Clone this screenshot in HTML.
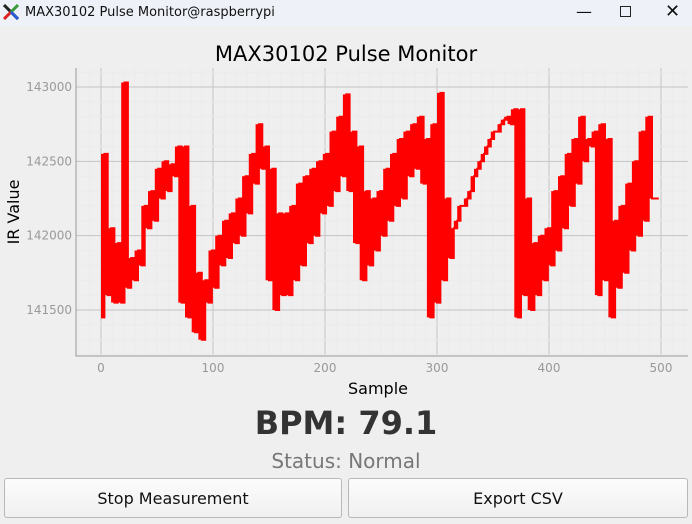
<!DOCTYPE html>
<html><head><meta charset="utf-8"><style>
body{margin:0;width:692px;height:524px;background:#efefef;font-family:"DejaVu Sans","Liberation Sans",sans-serif;overflow:hidden;position:relative}
.tb{position:absolute;left:0;top:0;width:692px;height:26px;background:#eef2f8;font-size:13px;color:#111}
.btn{position:absolute;top:478px;height:40px;background:linear-gradient(#fcfcfc,#f0f0f0);border:1px solid #b8b8b8;border-radius:3px;font-size:16px;color:#111;display:flex;align-items:center;justify-content:center;box-sizing:border-box}
</style></head><body>
<div class="tb">
<svg style="position:absolute;left:3px;top:4px" width="16" height="16"><path d="M1 1L15 15" stroke="#222" stroke-width="3"/><path d="M15 1L8 8" stroke="#3a9a3a" stroke-width="3"/><path d="M1 15L8 8" stroke="#d22" stroke-width="3"/><path d="M8 8L15 15" stroke="#2a5bd8" stroke-width="3"/></svg>
<span style="position:absolute;left:25px;top:5px">MAX30102 Pulse Monitor@raspberrypi</span>
<span style="position:absolute;left:576px;top:2px;font-size:16px">—</span>
<span style="position:absolute;left:620px;top:6px;width:9px;height:9px;border:1.2px solid #222"></span>
<span style="position:absolute;left:665px;top:1px;font-size:18px">✕</span>
</div>
<svg id="chart" style="position:absolute;left:4px;top:37px" width="684" height="362"></svg>
<div style="position:absolute;left:0;width:692px;top:404px;text-align:center;font-size:32px;font-weight:bold;color:#333">BPM: 79.1</div>
<div style="position:absolute;left:0;width:692px;top:449px;text-align:center;font-size:20px;color:#777">Status: Normal</div>
<div class="btn" style="left:4px;width:338px">Stop Measurement</div>
<div class="btn" style="left:348px;width:340px">Export CSV</div>
<script>
const xTicks=[0,100,200,300,400,500];
const yTicks=[141500,142000,142500,143000];
const samples=[];for(let i=0;i<=498;i+=3)samples.push(i);
const irValues=[141450,142550,141600,142050,141550,141950,141550,143030,141650,141850,141700,141900,141800,142200,142050,142300,142100,142450,142250,142500,142300,142480,142400,142600,141550,142600,141450,142200,141350,141750,141300,141700,141550,141900,141650,142000,141800,142100,141850,142150,141950,142250,142000,142400,142150,142550,142350,142750,142450,142600,141700,142450,141500,142150,141600,142150,141600,142200,141700,142350,141800,142400,141950,142450,142000,142500,142150,142550,142200,142700,142300,142800,142400,142950,142300,142700,141950,142600,141700,142300,141800,142250,141900,142300,142000,142450,142100,142550,142200,142650,142250,142700,142400,142750,142450,142800,142350,142650,141450,142750,141550,142960,141700,142250,141850,142050,142100,142200,142200,142250,142300,142400,142450,142500,142550,142600,142650,142700,142700,142750,142780,142800,142750,142850,141450,142850,141600,142250,141500,141950,141600,142000,141700,142050,141800,142300,141900,142400,142050,142550,142200,142650,142350,142800,142500,142650,142600,142700,141600,142750,141700,142650,141450,142100,141650,142200,141750,142350,141900,142500,142000,142700,142100,142800,142250,142250,142250];
const NS="http://www.w3.org/2000/svg";
const svg=document.getElementById('chart');
const L=72,R=684,T=31,B=319;
const X=v=>97+v*560/500;
const Y=v=>50-(v-143000)*223/1500;
function mk(t,a,p){const e=document.createElementNS(NS,t);for(const k in a)e.setAttribute(k,a[k]);(p||svg).appendChild(e);return e;}
const g=mk('g',{});


for(let v=-20;v<=520;v+=10){const x=X(v);if(x<L||x>R)continue;mk('line',{x1:x,x2:x,y1:T,y2:B,stroke:v%100==0?'#c4c4c4':'#ebebeb','stroke-width':1},g);}
for(let v=141100;v<=143200;v+=100){const y=Y(v);if(y<T||y>B)continue;mk('line',{x1:L,x2:R,y1:y,y2:y,stroke:v%500==0?'#c4c4c4':'#ebebeb','stroke-width':1},g);}
const ax=mk('path',{d:`M${L} ${T}V${B}H${R}`,stroke:'#999',fill:'none','stroke-width':1});


xTicks.forEach(v=>{const t=mk('text',{x:X(v),y:B+16,'text-anchor':'middle','font-size':12,fill:'#999'});t.textContent=v;

});
yTicks.forEach(v=>{const t=mk('text',{x:L-4,y:Y(v)+4,'text-anchor':'end','font-size':12,fill:'#999'});t.textContent=v;

});
const fillG=mk('g',{fill:'#ff0000'});


for(let i=0;i<samples.length-1;i++){
  const x0=X(samples[i]),x1=X(samples[i+1]);
  const ya=Y(irValues[i]),yb=Y(irValues[i+1]);
  mk('rect',{x:x0.toFixed(1),y:Math.min(ya,yb).toFixed(1),width:(x1-x0).toFixed(2),height:Math.abs(ya-yb).toFixed(1)},fillG);
}
let d='M'+X(samples[0]).toFixed(1)+' '+Y(irValues[0]).toFixed(1);
for(let i=1;i<samples.length;i++){d+='H'+X(samples[i]).toFixed(1)+'V'+Y(irValues[i]).toFixed(1);}
const ln=mk('path',{d:d,fill:'none',stroke:'#ff0000','stroke-width':2});


const tt=mk('text',{x:342,y:24,'text-anchor':'middle','font-size':21,fill:'#000'});tt.textContent='MAX30102 Pulse Monitor';


const xl=mk('text',{x:374,y:357,'text-anchor':'middle','font-size':16,fill:'#000'});xl.textContent='Sample';


const yl=mk('text',{x:0,y:0,'text-anchor':'middle','font-size':16,fill:'#000',transform:'translate(15,175) rotate(-90)'});yl.textContent='IR Value';


</script>
</body></html>
